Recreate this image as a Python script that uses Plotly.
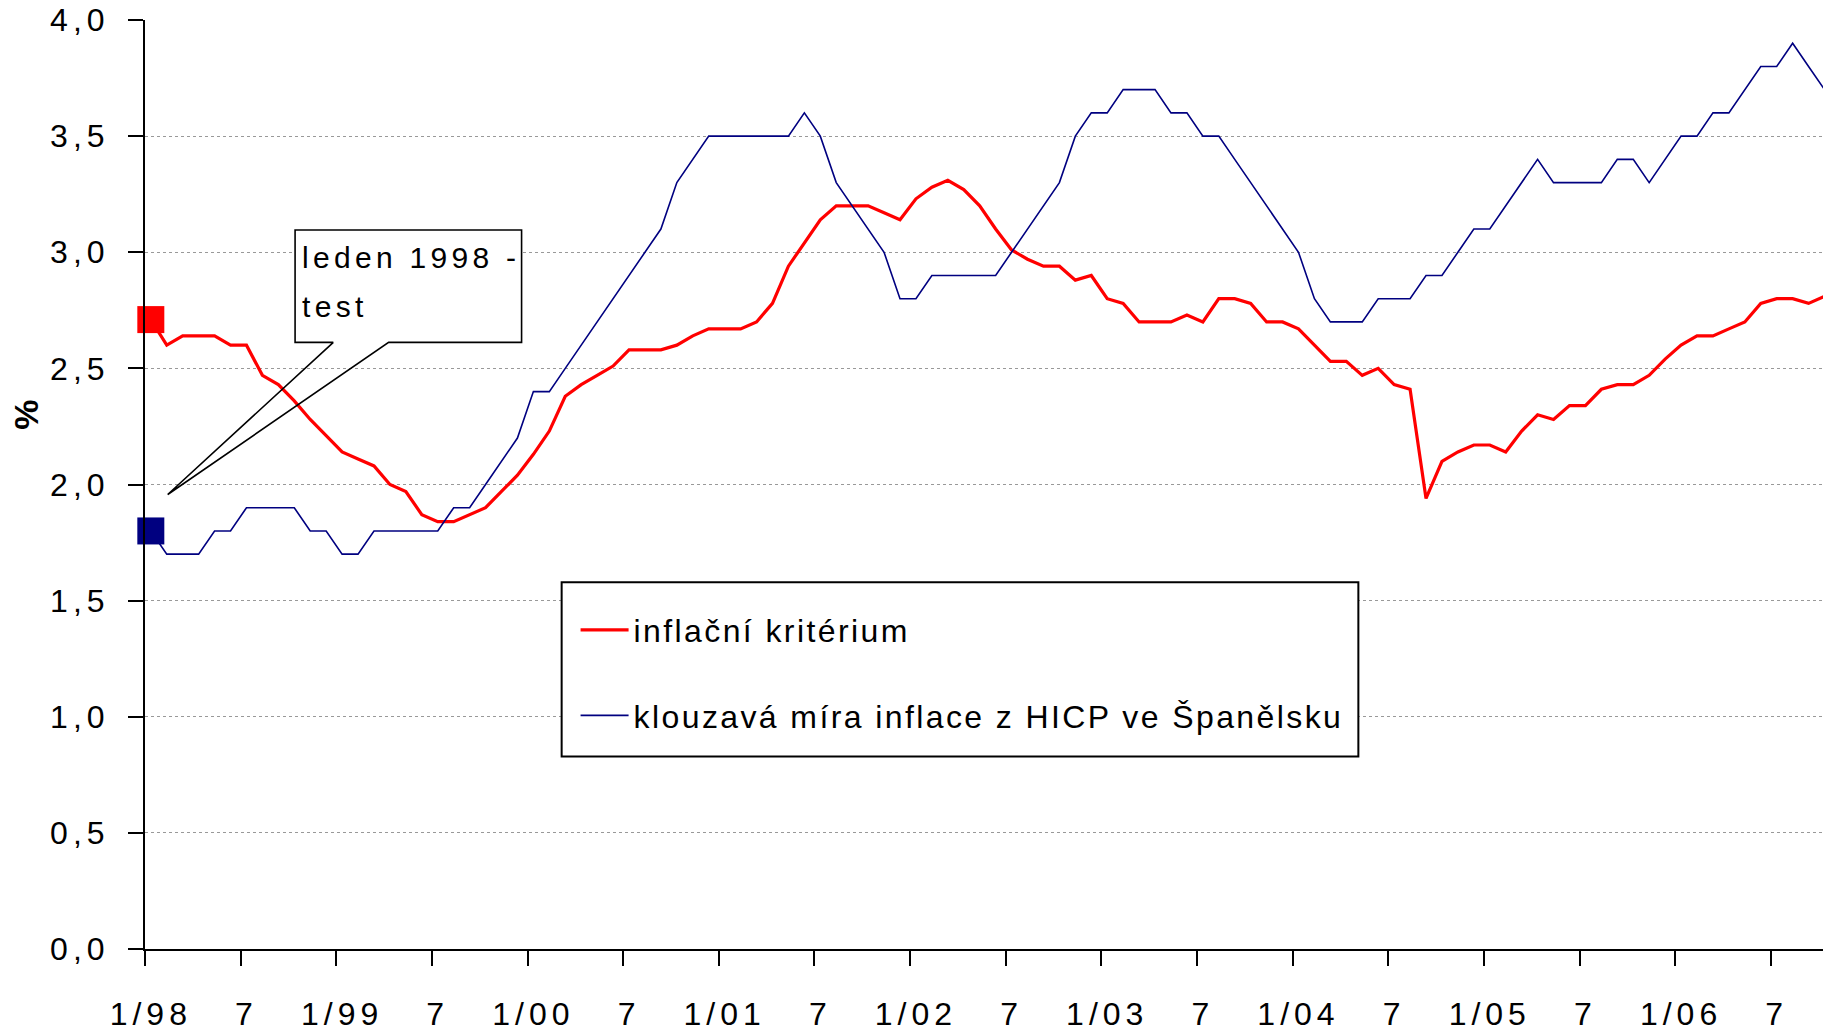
import plotly.graph_objects as go

# month index counted from January 1998 (0 = 1/98)
months = list(range(106))

# inflační kritérium
red = [2.71, 2.60, 2.64, 2.64, 2.64, 2.60, 2.60, 2.47, 2.43, 2.36,
       2.28, 2.21, 2.14, 2.11, 2.08, 2.00, 1.97, 1.87, 1.84, 1.84,
       1.87, 1.90, 1.97, 2.04, 2.13, 2.23, 2.38, 2.43, 2.47, 2.51,
       2.58, 2.58, 2.58, 2.60, 2.64, 2.67, 2.67, 2.67, 2.70, 2.78,
       2.94, 3.04, 3.14, 3.20, 3.20, 3.20, 3.17, 3.14, 3.23, 3.28,
       3.31, 3.27, 3.20, 3.10, 3.01, 2.97, 2.94, 2.94, 2.88, 2.90,
       2.80, 2.78, 2.70, 2.70, 2.70, 2.73, 2.70, 2.80, 2.80, 2.78,
       2.70, 2.70, 2.67, 2.60, 2.53, 2.53, 2.47, 2.50, 2.43, 2.41,
       1.94, 2.10, 2.14, 2.17, 2.17, 2.14, 2.23, 2.30, 2.28, 2.34,
       2.34, 2.41, 2.43, 2.43, 2.47, 2.54, 2.60, 2.64, 2.64, 2.67,
       2.70, 2.78, 2.80, 2.80, 2.78, 2.81]

# klouzavá míra inflace z HICP ve Španělsku
blue = [1.8, 1.7, 1.7, 1.7, 1.8, 1.8, 1.9, 1.9, 1.9, 1.9,
        1.8, 1.8, 1.7, 1.7, 1.8, 1.8, 1.8, 1.8, 1.8, 1.9,
        1.9, 2.0, 2.1, 2.2, 2.4, 2.4, 2.5, 2.6, 2.7, 2.8,
        2.9, 3.0, 3.1, 3.3, 3.4, 3.5, 3.5, 3.5, 3.5, 3.5,
        3.5, 3.6, 3.5, 3.3, 3.2, 3.1, 3.0, 2.8, 2.8, 2.9,
        2.9, 2.9, 2.9, 2.9, 3.0, 3.1, 3.2, 3.3, 3.5, 3.6,
        3.6, 3.7, 3.7, 3.7, 3.6, 3.6, 3.5, 3.5, 3.4, 3.3,
        3.2, 3.1, 3.0, 2.8, 2.7, 2.7, 2.7, 2.8, 2.8, 2.8,
        2.9, 2.9, 3.0, 3.1, 3.1, 3.2, 3.3, 3.4, 3.3, 3.3,
        3.3, 3.3, 3.4, 3.4, 3.3, 3.4, 3.5, 3.5, 3.6, 3.6,
        3.7, 3.8, 3.8, 3.9, 3.8, 3.7]

tick_pos = list(range(0, 103, 6))
tick_labels = ["1/98", "7", "1/99", "7", "1/00", "7", "1/01", "7", "1/02", "7",
               "1/03", "7", "1/04", "7", "1/05", "7", "1/06", "7"]
y_ticks = [0, 0.5, 1.0, 1.5, 2.0, 2.5, 3.0, 3.5, 4.0]

names = ["inflační kritérium", "klouzavá míra inflace z HICP ve Španělsku"]
annot_lines = ["leden 1998 -", "test"]

RED = "#FF0000"
NAVY = "#000080"
FONT = "Liberation Sans, Arial, sans-serif"
TICK_SHIFT = 0.365  # tick marks sit slightly left of category points
X0 = -TICK_SHIFT
X1 = X0 + 1678 / 15.94

fig = go.Figure()
fig.add_trace(go.Scatter(x=months, y=red, mode="lines", name=names[0],
                         legendgroup="a",
                         line=dict(color=RED, width=3.2)))
fig.add_trace(go.Scatter(x=months, y=blue, mode="lines", name=names[1],
                         legendgroup="b",
                         line=dict(color=NAVY, width=1.6)))
fig.add_trace(go.Scatter(x=months[:1], y=red[:1], mode="markers", showlegend=False,
                         cliponaxis=False,
                         marker=dict(symbol="square", size=27, color=RED, line=dict(width=0))))
fig.add_trace(go.Scatter(x=months[:1], y=blue[:1], mode="markers", showlegend=False,
                         cliponaxis=False,
                         marker=dict(symbol="square", size=27, color=NAVY, line=dict(width=0))))

# callout for the annotation (box with wedge pointing to first month)
bx0, bx1, by0, by1 = 9.05, 23.26, 2.612, 3.096
tb0, tb1 = 11.45, 14.92
tipx, tipy = 1.06, 1.957
fig.add_shape(type="rect", xref="x", yref="y", x0=bx0, x1=bx1, y0=by0, y1=by1,
              fillcolor="white", line=dict(width=0), layer="above")
path = (f"M {tb0},{by0} L {bx0},{by0} L {bx0},{by1} L {bx1},{by1} L {bx1},{by0} "
        f"L {tb1},{by0} L {tipx},{tipy} L {tb0},{by0}")
fig.add_shape(type="path", xref="x", yref="y", path=path,
              fillcolor="rgba(0,0,0,0)", line=dict(color="black", width=1.6), layer="above")
fig.add_annotation(x=9.36, y=2.978, xref="x", yref="y", text=annot_lines[0],
                   showarrow=False, xanchor="left", yanchor="middle",
                   font=dict(family=FONT, size=30, color="black"))
fig.add_annotation(x=9.36, y=2.768, xref="x", yref="y", text=annot_lines[1],
                   showarrow=False, xanchor="left", yanchor="middle",
                   font=dict(family=FONT, size=30, color="black"))

# legend frame
fig.add_shape(type="rect", xref="paper", yref="paper",
              x0=0.2483, x1=0.7231, y0=0.2073, y1=0.3949,
              fillcolor="white", line=dict(color="black", width=2), layer="above")

# y-axis title
fig.add_annotation(x=-0.0709, y=2.30, xref="paper", yref="y", text="<b>%</b>",
                   showarrow=False, textangle=-90, xanchor="center", yanchor="middle",
                   font=dict(family=FONT, size=34, color="black"))

fig.update_layout(
    width=1823, height=1033,
    margin=dict(l=145, r=0, t=20, b=84, autoexpand=False),
    paper_bgcolor="white", plot_bgcolor="white",
    separators=", ",
    font=dict(family=FONT, size=32, color="black"),
    showlegend=True,
    legend=dict(x=0.2566, y=0.373, xanchor="left", yanchor="top",
                bgcolor="rgba(0,0,0,0)", borderwidth=0,
                font=dict(family=FONT, size=32, color="black"),
                tracegroupgap=41, itemwidth=48, traceorder="grouped"),
    xaxis=dict(range=[X0, X1], showgrid=False, zeroline=False, automargin=False,
               showline=True, linecolor="black", linewidth=2,
               tickmode="array", tickvals=tick_pos, ticktext=tick_labels,
               ticks="outside", ticklen=15, tickcolor="rgba(0,0,0,0)",
               ticklabelstandoff=21,
               tickfont=dict(family=FONT, size=32, color="black"),
               minor=dict(tickmode="array", tickvals=[p - TICK_SHIFT for p in tick_pos],
                          ticks="outside", ticklen=15, tickwidth=1.5, tickcolor="black",
                          showgrid=False)),
    yaxis=dict(range=[0, 4.0], showgrid=True, gridcolor="#999999", gridwidth=1,
               griddash="dot", zeroline=False, automargin=False,
               showline=True, linecolor="black", linewidth=2,
               tickmode="array", tickvals=y_ticks, tickformat=".1f",
               ticks="outside", ticklen=15, tickwidth=1.5, tickcolor="black",
               ticklabelstandoff=12,
               tickfont=dict(family=FONT, size=32, color="black")),
)

post = """
document.body.style.margin = '0';
document.body.style.padding = '0';
var gd = document.getElementById('{plot_id}');
function sp(sel, v){ gd.querySelectorAll(sel).forEach(function(t){ t.setAttribute('letter-spacing', v); }); }
sp('.xtick text', '5px');
sp('.ytick text', '5px');
sp('.legendtext', '2.4px');
gd.querySelectorAll('.legend [clip-path]').forEach(function(e){ e.removeAttribute('clip-path'); });
gd.querySelectorAll('.annotation-text').forEach(function(t){
  if (t.textContent === '%') return;
  var b0 = t.getBBox().x;
  t.setAttribute('letter-spacing', '4.3px');
  var b1 = t.getBBox().x;
  var tr = t.getAttribute('transform') || '';
  t.setAttribute('transform', tr + ' translate(' + (b0 - b1) + ',0)');
});
"""

fig.write_html("out.html", post_script=post, config={"displayModeBar": False})
